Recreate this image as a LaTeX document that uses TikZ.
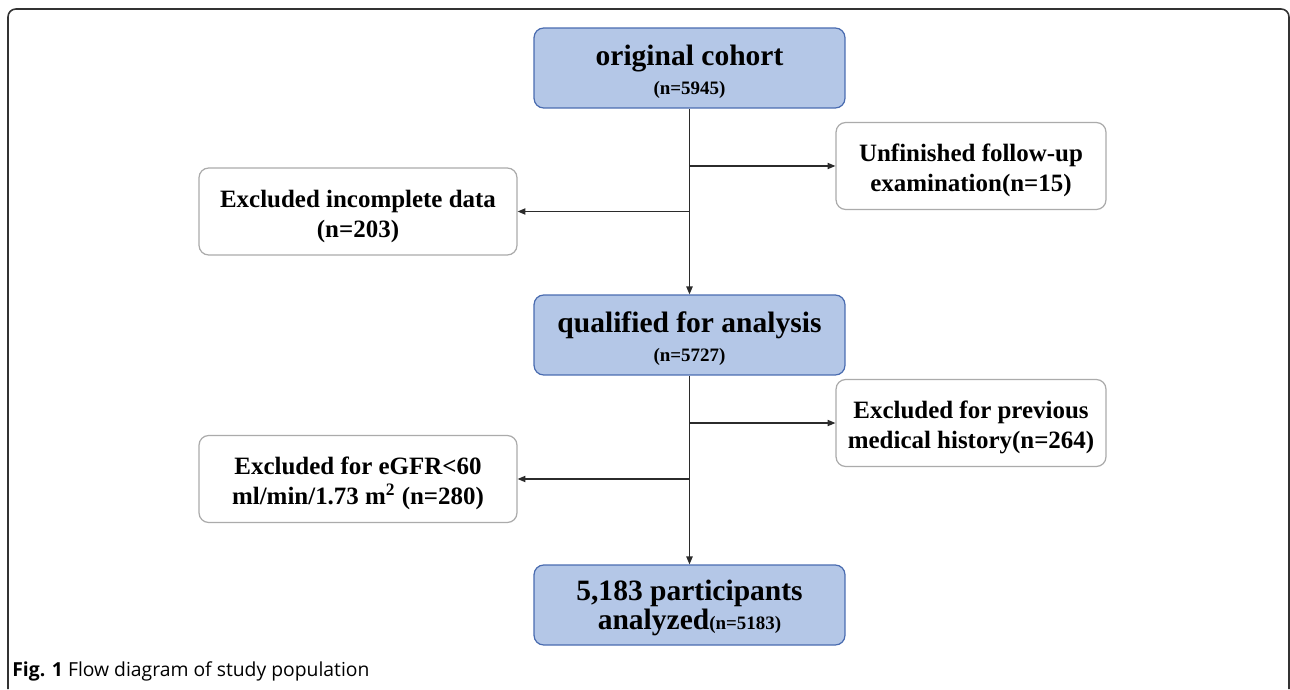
\documentclass[tikz,border=0pt]{standalone}
\usepackage{fontspec}
\setmainfont{Liberation Serif}
\newfontfamily\capfont{Open Sans}
\usepackage{xcolor}
\usetikzlibrary{arrows.meta,positioning}

\definecolor{mainfill}{HTML}{B4C7E7}
\definecolor{maindraw}{HTML}{4A6CB0}
\definecolor{sidedraw}{HTML}{ABABAB}
\definecolor{linecol}{HTML}{2B2B2B}
\newcommand\bigtxt{\fontsize{16.8}{16.5}\selectfont}
\newcommand\smalltxt{\fontsize{10.8}{13}\selectfont}

\begin{document}
\begin{tikzpicture}[
  x=0.02cm, y=-0.02cm,
  box/.style={draw, rounded corners=5.5pt, align=center, inner sep=0pt, line width=0.7pt},
  mainbox/.style={box, fill=mainfill, draw=maindraw, minimum width=6.22cm,
                  minimum height=1.6cm, text height=32pt, font=\bigtxt\bfseries},
  sidebox/.style={box, fill=white, draw=sidedraw, minimum height=1.74cm,
                  text height=32.4pt, font=\fontsize{14.2}{17}\selectfont\bfseries},
  arr/.style={-{Triangle[length=4.5pt,width=3.6pt]}, draw=linecol, line width=0.7pt}
]
\useasboundingbox (0,0) rectangle (1290,689);
% frame of the figure
\draw[black!80, line width=0.9pt, rounded corners=4.5pt] (8,689) -- (8,9) -- (1289,9) -- (1289,689);

% main column
\node[mainbox] (orig) at (689.5,68) {original cohort\\{\smalltxt (n=5945)}};
\node[mainbox] (qual) at (689.5,335) {qualified for analysis\\{\smalltxt (n=5727)}};
\node[mainbox] (final) at (689.5,605) {5,183 participants\\analyzed{\smalltxt(n=5183)}};

% exclusions
\node[sidebox, minimum width=6.36cm] (incomp) at (358,211.5) {Excluded incomplete data\\(n=203)};
\node[sidebox, minimum width=5.4cm] (unfin) at (971,166) {Unfinished follow-up\\examination(n=15)};
\node[sidebox, minimum width=5.4cm] (hist) at (971,423) {Excluded for previous\\medical history(n=264)};
\node[sidebox, minimum width=6.36cm] (egfr) at (358,479) {Excluded for eGFR<60\\ml/min/1.73 m\textsuperscript{2} (n=280)};

\draw[arr] (orig) -- (qual);
\draw[arr] (orig.south |- unfin.west) -- (unfin.west);
\draw[arr] (orig.south |- incomp.east) -- (incomp.east);
\draw[arr] (qual) -- (final);
\draw[arr] (qual.south |- hist.west) -- (hist.west);
\draw[arr] (qual.south |- egfr.east) -- (egfr.east);

\node[anchor=base west, font=\capfont\fontsize{11}{13}\selectfont, inner sep=0pt] (cap) at (12,676)
  {\textbf{Fig. 1} Flow diagram of study population};
\end{tikzpicture}
\end{document}
